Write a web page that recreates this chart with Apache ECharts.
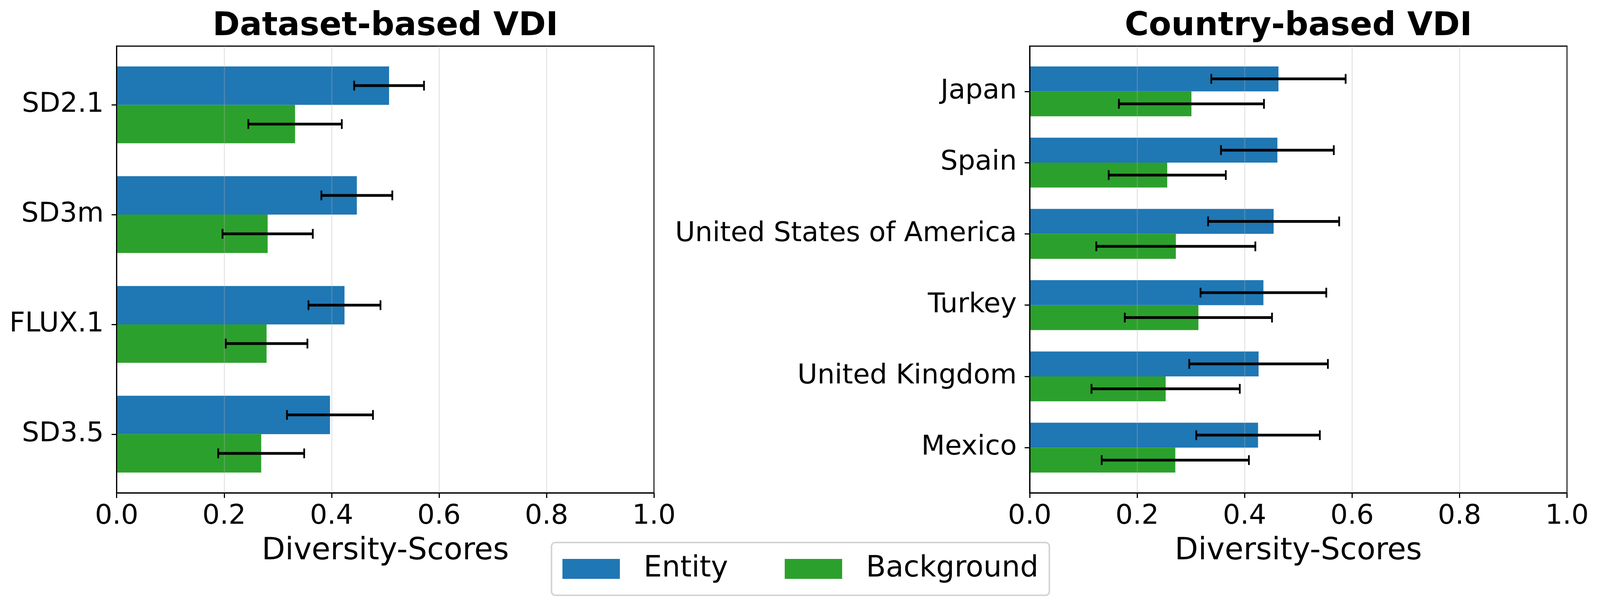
<!DOCTYPE html>
<html>
<head>
<meta charset="utf-8">
<script src="https://cdn.jsdelivr.net/npm/echarts@6/dist/echarts.min.js"></script>
<style>
  html, body { margin: 0; padding: 0; background: #fff; overflow: hidden; }
  #chart { width: 100vw; height: 100vh; }
</style>
</head>
<body>
<div id="chart"></div>
<script>
// dataset-based panel
var dsCats = ['SD2.1', 'SD3m', 'FLUX.1', 'SD3.5'];
var dsEntity = [0.507, 0.447, 0.424, 0.397];
var dsEntityErr = [0.065, 0.066, 0.067, 0.080];
var dsBg = [0.332, 0.281, 0.279, 0.269];
var dsBgErr = [0.087, 0.084, 0.076, 0.080];

// country-based panel
var ctCats = ['Japan', 'Spain', 'United States of America', 'Turkey', 'United Kingdom', 'Mexico'];
var ctEntity = [0.463, 0.461, 0.454, 0.435, 0.426, 0.425];
var ctEntityErr = [0.125, 0.105, 0.122, 0.117, 0.129, 0.115];
var ctBg = [0.301, 0.256, 0.272, 0.314, 0.253, 0.271];
var ctBgErr = [0.135, 0.109, 0.148, 0.137, 0.138, 0.137];

var titles = ['Dataset-based VDI', 'Country-based VDI'];

var BLUE = '#1f77b4', GREEN = '#2ca02c';
var FONT = 'DejaVu Sans';
var BAR_H = 0.35;

// layout is laid out for a 4169px wide figure, horizontal positions go as percentages
var REF_W = 4169;
function pct(px) { return (px / REF_W * 100).toFixed(3) + '%'; }

function rows(vals, errs) {
    return vals.map(function (v, k) { return [k, v, errs[k]]; });
}

function barItem(off) {
    return function (params, api) {
        var i = api.value(0), v = api.value(1);
        var a = api.coord([0, i + off]);
        var b = api.coord([v, i + off + BAR_H]);
        return {
            type: 'rect',
            shape: { x: a[0], y: Math.min(a[1], b[1]), width: b[0] - a[0], height: Math.abs(b[1] - a[1]) },
            style: { fill: api.visual('color') }
        };
    };
}

function errItem(off) {
    return function (params, api) {
        var i = api.value(0), v = api.value(1), e = api.value(2);
        var l = api.coord([v - e, i + off + BAR_H / 2]);
        var r = api.coord([v + e, i + off + BAR_H / 2]);
        var c = 12.5;
        return {
            type: 'group',
            children: [
                { type: 'line', shape: { x1: l[0], y1: l[1], x2: r[0], y2: r[1] }, style: { stroke: '#000', lineWidth: 7 } },
                { type: 'line', shape: { x1: l[0], y1: l[1] - c, x2: l[0], y2: l[1] + c }, style: { stroke: '#000', lineWidth: 4.5 } },
                { type: 'line', shape: { x1: r[0], y1: r[1] - c, x2: r[0], y2: r[1] + c }, style: { stroke: '#000', lineWidth: 4.5 } }
            ]
        };
    };
}

function xAxisFor(idx) {
    return {
        type: 'value', gridIndex: idx, min: 0, max: 1, interval: 0.2, z: 5,
        name: 'Diversity-Scores', nameLocation: 'middle', nameGap: 111,
        nameTextStyle: { fontFamily: FONT, fontSize: 78, color: '#000', verticalAlign: 'top' },
        axisLine: { show: true, onZero: false, lineStyle: { color: '#000', width: 3 } },
        axisTick: { show: true, length: 13, lineStyle: { color: '#000', width: 3 } },
        axisLabel: { fontFamily: FONT, fontSize: 70, color: '#000', margin: 26,
            formatter: function (v) { return v.toFixed(1); } },
        splitLine: { show: true, lineStyle: { color: 'rgba(176,176,176,0.3)', width: 3 } }
    };
}

function yAxisFor(idx, cats) {
    var n = cats.length;
    var pad = (n - 1 + 2 * BAR_H) * 0.05 + BAR_H;
    var ticks = cats.map(function (c, k) { return k; });
    return {
        type: 'value', gridIndex: idx, inverse: true, z: 5,
        min: -pad, max: n - 1 + pad,
        axisLine: { show: true, onZero: false, lineStyle: { color: '#000', width: 3 } },
        axisTick: { show: true, length: 13, customValues: ticks, lineStyle: { color: '#000', width: 3 } },
        axisLabel: { fontFamily: FONT, fontSize: 70, color: '#000', margin: 33, customValues: ticks,
            formatter: function (v) { return cats[Math.round(v)]; } },
        splitLine: { show: false }
    };
}

function panelSeries(idx, ent, entErr, bg, bgErr) {
    return [
        { name: 'Entity', type: 'custom', xAxisIndex: idx, yAxisIndex: idx, z: 2,
          itemStyle: { color: BLUE }, encode: { x: 1, y: 0 },
          renderItem: barItem(-BAR_H), data: rows(ent, entErr) },
        { name: 'Background', type: 'custom', xAxisIndex: idx, yAxisIndex: idx, z: 2,
          itemStyle: { color: GREEN }, encode: { x: 1, y: 0 },
          renderItem: barItem(0), data: rows(bg, bgErr) },
        { name: 'err-e' + idx, type: 'custom', xAxisIndex: idx, yAxisIndex: idx, z: 6,
          encode: { x: 1, y: 0 }, renderItem: errItem(-BAR_H), data: rows(ent, entErr) },
        { name: 'err-b' + idx, type: 'custom', xAxisIndex: idx, yAxisIndex: idx, z: 6,
          encode: { x: 1, y: 0 }, renderItem: errItem(0), data: rows(bg, bgErr) }
    ];
}

var chart = echarts.init(document.getElementById('chart'));
var option = {
    backgroundColor: '#fff',
    animation: false,
    title: [
        { text: titles[0], left: pct(1004), top: 26, padding: 0, textAlign: 'center',
          textStyle: { fontFamily: FONT, fontSize: 84, fontWeight: 'bold', color: '#000' } },
        { text: titles[1], left: pct(3383), top: 26, padding: 0, textAlign: 'center',
          textStyle: { fontFamily: FONT, fontSize: 84, fontWeight: 'bold', color: '#000' } }
    ],
    grid: [
        { left: pct(304), top: 118, width: pct(1400), height: 1143, show: true, borderColor: '#000', borderWidth: 3, backgroundColor: 'transparent' },
        { left: pct(2683), top: 118, width: pct(1400), height: 1143, show: true, borderColor: '#000', borderWidth: 3, backgroundColor: 'transparent' }
    ],
    legend: {
        data: ['Entity', 'Background'],
        left: pct(1437), top: 1388,
        orient: 'horizontal',
        icon: 'rect', itemWidth: 147, itemHeight: 51, itemGap: 145,
        padding: [30, 28, 30, 28],
        backgroundColor: '#fff',
        borderColor: '#d4d4d4', borderWidth: 4, borderRadius: 10,
        textStyle: { fontFamily: FONT, fontSize: 74, color: '#000', lineHeight: 75, padding: [0, 0, 0, 56] }
    },
    xAxis: [xAxisFor(0), xAxisFor(1)],
    yAxis: [yAxisFor(0, dsCats), yAxisFor(1, ctCats)],
    series: panelSeries(0, dsEntity, dsEntityErr, dsBg, dsBgErr)
        .concat(panelSeries(1, ctEntity, ctEntityErr, ctBg, ctBgErr))
};
chart.setOption(option);
window.addEventListener('resize', function () { chart.resize(); });
</script>
</body>
</html>
